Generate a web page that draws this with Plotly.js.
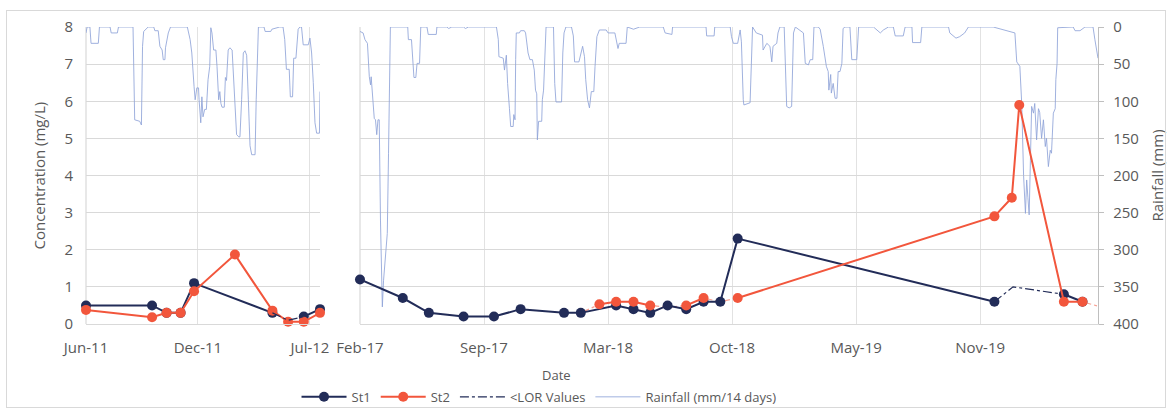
<!DOCTYPE html>
<html>
<head>
<meta charset="utf-8">
<script src="https://cdn.plot.ly/plotly-3.0.1.min.js"></script>
<style>
  html, body { margin: 0; padding: 0; background: #ffffff; }
  #wrap { position: relative; width: 1172px; height: 410px; }
  #chart { position: absolute; left: 0; top: 0; width: 1172px; height: 410px; }
  #frame { position: absolute; left: 6px; top: 10px; width: 1158px; height: 396px;
           border: 1px solid #d9d9d9; pointer-events: none; }
</style>
</head>
<body>
<div id="wrap">
  <div id="chart"></div>
  <div id="frame"></div>
</div>
<script>
// ---------- Sampling period 1: 2011-2012 ----------
const st1Dates2011 = ['2011-06-05','2011-10-01','2011-10-27','2011-11-21','2011-12-15','2012-05-03','2012-05-31','2012-06-28','2012-07-27'];
const st1Vals2011  = [0.5, 0.5, 0.3, 0.3, 1.1, 0.3, null, 0.2, 0.4];

const st2Dates2011 = ['2011-06-05','2011-10-01','2011-10-27','2011-11-21','2011-12-15','2012-02-26','2012-05-03','2012-05-31','2012-06-28','2012-07-27'];
const st2Vals2011  = [0.38, 0.18, 0.3, 0.3, 0.88, 1.87, 0.36, 0.06, 0.06, 0.3];

const lorDates2011 = ['2012-05-03','2012-05-31','2012-06-28'];
const lorVals2011  = [0.3, 0.1, 0.2];

// Rainfall, mm per 14 days (2011-2012)
const rainDates2011 = [
  '2011-06-05','2011-06-07','2011-06-12','2011-06-14','2011-06-27','2011-06-29','2011-07-18','2011-07-20','2011-07-31','2011-08-02',
  '2011-08-28','2011-08-31','2011-09-09','2011-09-12','2011-09-14','2011-09-16','2011-09-24','2011-10-04','2011-10-06','2011-10-12',
  '2011-10-15','2011-10-19','2011-10-21','2011-10-24','2011-10-25','2011-10-30','2011-11-03','2011-12-03','2011-12-08','2011-12-11',
  '2011-12-15','2011-12-17','2011-12-20','2011-12-23','2011-12-24','2011-12-27','2011-12-29','2011-12-31','2012-01-03','2012-01-06',
  '2012-01-09','2012-01-12','2012-01-14','2012-01-16','2012-01-19','2012-01-23','2012-01-25','2012-01-28','2012-01-30','2012-02-01',
  '2012-02-03','2012-02-07','2012-02-09','2012-02-11','2012-02-14','2012-02-17','2012-02-21','2012-02-23','2012-02-26','2012-02-29',
  '2012-03-04','2012-03-06','2012-03-09','2012-03-12','2012-03-15','2012-03-18','2012-03-21','2012-03-24','2012-03-27','2012-04-02',
  '2012-04-04','2012-04-08','2012-04-18','2012-04-20','2012-04-30','2012-05-02','2012-05-16','2012-05-22','2012-05-25','2012-05-28',
  '2012-06-02','2012-06-04','2012-06-08','2012-06-10','2012-06-14','2012-06-18','2012-06-21','2012-06-24','2012-06-27','2012-07-06',
  '2012-07-09','2012-07-12','2012-07-15','2012-07-18','2012-07-21','2012-07-26','2012-07-27'
];
const rain2011 = [
  8, 0, 0, 22, 22, 0, 0, 8, 8, 0,
  0, 125, 127, 132, 26, 6, 0, 0, 5, 5,
  26, 31, 44, 44, 28, 8, 0, 0, 17, 35,
  80, 98, 82, 82, 98, 129, 94, 121, 111, 111,
  71, 53, 1, 8, 31, 31, 53, 98, 87, 103,
  108, 108, 68, 72, 31, 28, 31, 57, 98, 145,
  148, 148, 98, 35, 32, 38, 98, 160, 172, 172,
  98, 0, 0, 6, 6, 3, 0, 0, 17, 57,
  57, 94, 94, 42, 42, 3, 0, 0, 24, 24,
  15, 35, 75, 129, 143, 143, 87
];

// ---------- Sampling period 2: 2017-2020 ----------
const st1Dates = ['2017-02-20','2017-04-30','2017-06-11','2017-08-06','2017-09-24','2017-11-06','2018-01-15','2018-02-11','2018-04-09','2018-05-07',
                  '2018-06-03','2018-07-01','2018-07-31','2018-08-28','2018-09-24','2018-10-22','2019-12-10','2020-01-09','2020-03-31','2020-04-30'];
const st1Vals  = [1.2, 0.7, 0.3, 0.2, 0.2, 0.4, 0.3, 0.3, 0.5, 0.4,
                  0.3, 0.5, 0.4, 0.6, 0.6, 2.3, 0.6, null, 0.8, 0.6];

const st2Dates = ['2018-03-13','2018-04-09','2018-05-07','2018-06-03','2018-07-01','2018-07-31','2018-08-28','2018-09-24','2018-10-22',
                  '2019-12-10','2020-01-07','2020-01-19','2020-03-31','2020-04-30'];
const st2Vals  = [0.53, 0.6, 0.6, 0.5, null, 0.5, 0.7, null, 0.7,
                  2.9, 3.4, 5.9, 0.6, 0.6];

// Results below the limit of reporting
const lorSt1Dates = ['2019-12-10','2020-01-09','2020-03-31'];
const lorSt1Vals  = [0.6, 1.0, 0.8];
const lorSt2Dates = ['2018-02-11','2018-03-13','2018-03-13','2018-06-03','2018-07-01','2018-07-31','2018-07-31','2018-08-28','2018-09-24','2018-10-22','2018-10-22','2020-04-30','2020-05-25'];
const lorSt2Vals  = [0.3, 0.53, null, 0.5, 0.45, 0.5, null, 0.7, 0.6, 0.7, null, 0.6, 0.48];

// Rainfall, mm per 14 days (2017-2020)
const rainDates1720 = [
  '2017-02-20','2017-02-25','2017-02-28','2017-03-04','2017-03-07','2017-03-09','2017-03-10','2017-03-12','2017-03-15','2017-03-17',
  '2017-03-19','2017-03-21','2017-03-23','2017-03-25','2017-03-27','2017-03-28','2017-03-30','2017-04-03','2017-04-05','2017-04-07',
  '2017-04-09','2017-04-10','2017-05-08','2017-05-09','2017-05-14','2017-05-16','2017-05-18','2017-05-21','2017-05-23','2017-05-27',
  '2017-05-29','2017-06-08','2017-06-10','2017-06-23','2017-06-24','2017-07-10','2017-07-13','2017-07-18','2017-08-06','2017-08-09',
  '2017-08-14','2017-09-28','2017-10-01','2017-10-02','2017-10-09','2017-10-11','2017-10-14','2017-10-16','2017-10-18','2017-10-19',
  '2017-10-21','2017-10-25','2017-10-26','2017-10-28','2017-10-29','2017-10-30','2017-11-04','2017-11-06','2017-11-12','2017-11-14',
  '2017-11-18','2017-11-21','2017-11-25','2017-11-28','2017-11-30','2017-12-02','2017-12-03','2017-12-05','2017-12-10','2017-12-11',
  '2017-12-13','2017-12-17','2017-12-29','2017-12-31','2018-01-02','2018-01-11','2018-01-13','2018-01-15','2018-01-18','2018-01-27',
  '2018-01-30','2018-02-01','2018-02-08','2018-02-10','2018-02-14','2018-02-17','2018-02-19','2018-02-22','2018-02-25','2018-02-28',
  '2018-03-04','2018-03-06','2018-03-09','2018-03-13','2018-03-24','2018-03-27','2018-04-07','2018-04-12','2018-04-14','2018-04-25',
  '2018-04-27','2018-05-07','2018-05-17','2018-06-24','2018-06-27','2018-07-08','2018-07-09','2018-09-01','2018-09-02','2018-09-14',
  '2018-09-15','2018-10-10','2018-10-12','2018-10-15','2018-10-22','2018-10-26','2018-10-28','2018-10-31','2018-11-01','2018-11-11',
  '2018-11-13','2018-11-15','2018-11-21','2018-12-01','2018-12-02','2018-12-08','2018-12-13','2018-12-16','2018-12-18','2018-12-24',
  '2018-12-26','2018-12-29','2019-01-05','2019-01-06','2019-01-09','2019-01-13','2019-01-17','2019-01-20','2019-01-23','2019-02-05',
  '2019-02-08','2019-02-13','2019-02-16','2019-02-20','2019-02-22','2019-03-01','2019-03-04','2019-03-09','2019-03-14','2019-03-17',
  '2019-03-18','2019-03-21','2019-03-22','2019-03-25','2019-03-28','2019-03-31','2019-04-02','2019-04-05','2019-04-08','2019-04-10',
  '2019-04-13','2019-04-21','2019-04-24','2019-05-02','2019-05-05','2019-05-29','2019-06-03','2019-06-09','2019-06-14','2019-06-22',
  '2019-06-30','2019-07-03','2019-07-16','2019-07-19','2019-07-30','2019-07-31','2019-08-13','2019-08-15','2019-09-27','2019-09-29',
  '2019-10-09','2019-10-15','2019-10-23','2019-10-29','2019-12-08','2019-12-24','2020-01-05','2020-01-10','2020-01-12','2020-01-15',
  '2020-01-18','2020-01-20','2020-01-23','2020-01-26','2020-01-29','2020-01-31','2020-02-02','2020-02-04','2020-02-06','2020-02-08',
  '2020-02-11','2020-02-13','2020-02-16','2020-02-19','2020-02-21','2020-02-24','2020-02-27','2020-03-01','2020-03-03','2020-03-06',
  '2020-03-09','2020-03-11','2020-03-14','2020-03-17','2020-03-18','2020-03-20','2020-03-21','2020-04-15','2020-04-18','2020-04-26',
  '2020-05-04','2020-05-17','2020-05-20','2020-05-25'
];
const rain1720 = [
  6, 8, 17, 22, 67, 78, 67, 94, 123, 125,
  145, 125, 125, 260, 331, 377, 341, 296, 278, 170,
  35, 0, 0, 17, 17, 44, 68, 68, 49, 49,
  0, 0, 10, 10, 0, 0, 2, 0, 0, 2,
  0, 0, 17, 40, 42, 58, 38, 76, 107, 110,
  134, 134, 118, 125, 44, 8, 8, 5, 5, 8,
  35, 44, 44, 58, 85, 90, 152, 127, 127, 98,
  85, 0, 0, 76, 101, 101, 35, 8, 0, 0,
  12, 47, 47, 40, 26, 40, 71, 98, 109, 87,
  87, 53, 13, 4, 4, 8, 8, 29, 22, 22,
  0, 3, 0, 0, 8, 10, 0, 0, 12, 12,
  0, 0, 13, 22, 22, 4, 20, 98, 105, 102,
  40, 0, 8, 11, 31, 22, 26, 47, 26, 22,
  8, 0, 0, 31, 107, 109, 107, 8, 0, 8,
  49, 51, 44, 44, 0, 0, 3, 26, 53, 60,
  85, 64, 89, 76, 96, 96, 60, 60, 49, 2,
  0, 0, 44, 44, 0, 0, 4, 8, 4, 0,
  0, 12, 12, 0, 0, 21, 21, 0, 0, 8,
  15, 13, 8, 0, 0, 4, 6, 8, 8, 47,
  51, 53, 103, 200, 251, 206, 230, 253, 180, 107,
  116, 103, 152, 110, 115, 150, 125, 161, 150, 188,
  166, 170, 116, 110, 71, 49, 1, 0, 5, 5,
  0, 0, 17, 42
];

// ---------- Styling ----------
const NAVY = '#222c58';
const RED = '#f2563c';
const RAIN = 'rgba(143,163,216,0.85)';
const GRID = '#d9d9d9';
const XGRID = '#e2e2e2';
const TEXT = '#595959';
const FONT = 'Open Sans, sans-serif';

function concTrace(x, y, color, xaxis, name, show) {
  return {
    x: x, y: y, xaxis: xaxis, yaxis: 'y2', type: 'scatter', mode: 'lines+markers',
    name: name, showlegend: show, legendgroup: name, cliponaxis: false,
    line: { color: color, width: 2 },
    marker: { color: color, size: 10 }
  };
}
function lorTrace(x, y, color, xaxis, show, opacity) {
  return {
    x: x, y: y, xaxis: xaxis, yaxis: 'y2', type: 'scatter', mode: 'lines',
    name: '<LOR Values', showlegend: show, legendgroup: 'lor', opacity: opacity,
    line: { color: color, width: 1.2, dash: 'dashdot' }
  };
}
function rainTrace(x, y, xaxis, show) {
  return {
    x: x, y: y, xaxis: xaxis, yaxis: 'y', type: 'scatter', mode: 'lines',
    name: 'Rainfall (mm/14 days)', showlegend: show, legendgroup: 'rain',
    line: { color: RAIN, width: 1 }
  };
}

const data = [
  concTrace(st1Dates2011, st1Vals2011, NAVY, 'x', 'St1', true),
  concTrace(st2Dates2011, st2Vals2011, RED, 'x', 'St2', true),
  lorTrace(lorDates2011, lorVals2011, NAVY, 'x', true, 1),
  rainTrace(rainDates2011, rain2011, 'x', true),
  rainTrace(rainDates1720, rain1720, 'x2', false),
  lorTrace(lorSt1Dates, lorSt1Vals, NAVY, 'x2', false, 1),
  lorTrace(lorSt2Dates, lorSt2Vals, RED, 'x2', false, 0.55),
  concTrace(st1Dates, st1Vals, NAVY, 'x2', 'St1', false),
  concTrace(st2Dates, st2Vals, RED, 'x2', 'St2', false)
];

const xCommon = {
  type: 'date', tickformat: '%b-%y', showgrid: true, gridcolor: XGRID, gridwidth: 1,
  showline: true, linecolor: GRID, linewidth: 1.2, zeroline: false,
  ticks: '', ticklabelstandoff: 10,
  tickfont: { family: FONT, size: 15, color: TEXT }, anchor: 'y'
};

// left edge line of each panel
function edgeLine(ref) {
  return { type: 'line', xref: ref, yref: 'paper', x0: 0, x1: 0, y0: 0, y1: 1,
           line: { color: GRID, width: 1.2 }, layer: 'below' };
}

const layout = {
  width: 1172, height: 410,
  margin: { l: 86, r: 74, t: 27, b: 86 },
  paper_bgcolor: '#ffffff', plot_bgcolor: '#ffffff',
  font: { family: FONT, color: TEXT },
  showlegend: true,
  legend: {
    orientation: 'h', xref: 'container', yref: 'container',
    x: 0.253, xanchor: 'left', y: 0.032, yanchor: 'middle',
    font: { family: FONT, size: 13, color: TEXT }, itemwidth: 45, traceorder: 'normal',
    bgcolor: 'rgba(0,0,0,0)'
  },
  xaxis: Object.assign({}, xCommon, {
    domain: [0, 0.23123],
    range: ['2011-06-05', '2012-07-27'],
    tickvals: ['2011-06-05', '2011-12-22', '2012-07-09']
  }),
  xaxis2: Object.assign({}, xCommon, {
    domain: [0.27075, 1],
    range: ['2017-02-20', '2020-05-25'],
    tickvals: ['2017-02-20', '2017-09-08', '2018-03-27', '2018-10-13', '2019-05-01', '2019-11-17']
  }),
  // rainfall axis (right, inverted); its 50 mm steps line up with each 1 mg/L
  yaxis: {
    range: [400, 0], dtick: 50, side: 'right', anchor: 'x2',
    showgrid: true, gridcolor: GRID, gridwidth: 1.2,
    zeroline: false, showline: true, linecolor: '#bfbfbf', linewidth: 1.2,
    ticks: 'outside', ticklen: 5, tickcolor: '#bfbfbf', ticklabelstandoff: 6,
    tickfont: { family: FONT, size: 15, color: TEXT }
  },
  // concentration axis (left)
  yaxis2: {
    range: [0, 8], dtick: 1, side: 'left', anchor: 'x', overlaying: 'y',
    showgrid: false, zeroline: false, showline: false,
    ticks: '', ticklabelstandoff: 12,
    tickfont: { family: FONT, size: 15, color: TEXT }
  },
  shapes: [ edgeLine('x domain'), edgeLine('x2 domain') ],
  annotations: [
    { text: 'Concentration (mg/L)', xref: 'paper', yref: 'paper', x: -0.0474, y: 0.5,
      xanchor: 'center', yanchor: 'middle', textangle: -90, showarrow: false,
      font: { family: FONT, size: 15, color: TEXT } },
    { text: 'Rainfall (mm)', xref: 'paper', yref: 'paper', x: 1.0583, y: 0.5,
      xanchor: 'center', yanchor: 'middle', textangle: -90, showarrow: false,
      font: { family: FONT, size: 15, color: TEXT } },
    { text: 'Date', xref: 'paper', yref: 'paper', x: 0.4654, y: -0.1717,
      xanchor: 'center', yanchor: 'middle', showarrow: false,
      font: { family: FONT, size: 13, color: TEXT } }
  ]
};

Plotly.newPlot('chart', data, layout, { displayModeBar: false, staticPlot: true });
</script>
</body>
</html>
